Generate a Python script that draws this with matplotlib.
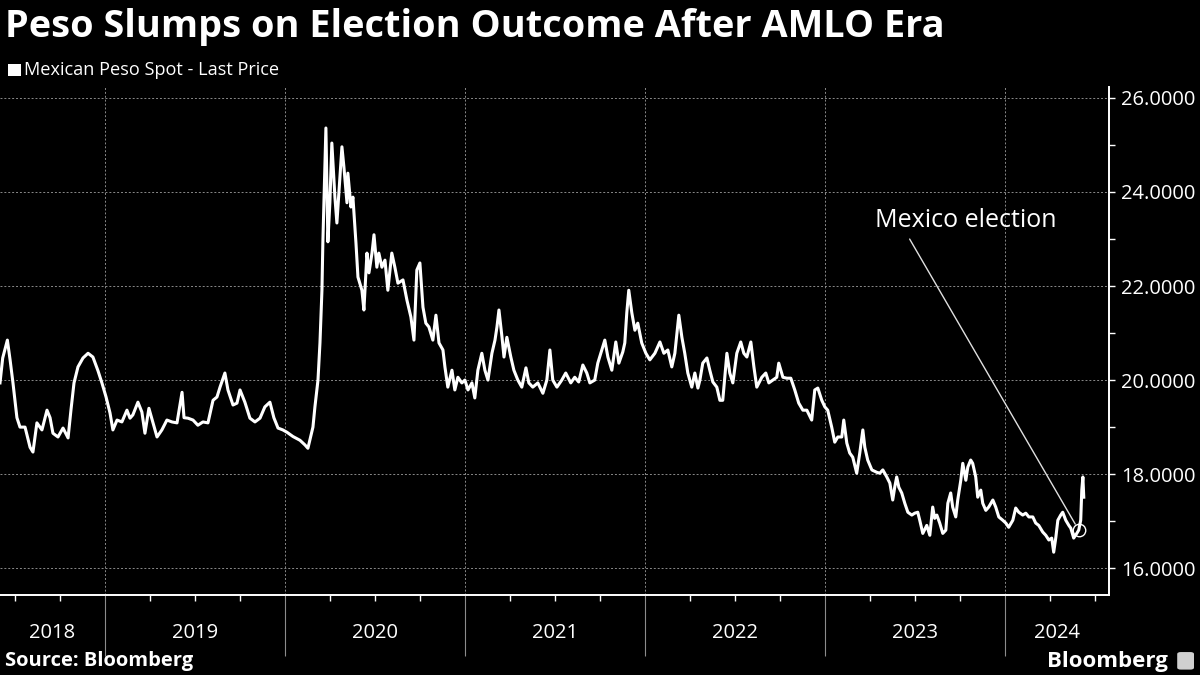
import numpy as np
import matplotlib.pyplot as plt
import matplotlib.transforms as mtransforms
from matplotlib.patches import Rectangle, FancyBboxPatch

plt.rcParams['font.family'] = ['Open Sans', 'DejaVu Sans']

# USD/MXN spot (time as decimal year)
t_2018 = [2018.417, 2018.432, 2018.458, 2018.473, 2018.489, 2018.511, 2018.528, 2018.556,
          2018.584, 2018.600, 2018.622, 2018.650, 2018.678, 2018.695, 2018.711, 2018.739,
          2018.767, 2018.795, 2018.811, 2018.828, 2018.850, 2018.878, 2018.906, 2018.933,
          2018.961, 2018.983]
v_2018 = [19.94, 20.47, 20.85, 20.43, 19.94, 19.20, 19.00, 19.00,
          18.57, 18.47, 19.09, 18.94, 19.36, 19.20, 18.87, 18.79,
          18.98, 18.77, 19.36, 19.94, 20.28, 20.47, 20.57, 20.49,
          20.20, 19.94]

t_2019 = [2019.006, 2019.028, 2019.044, 2019.067, 2019.094, 2019.122, 2019.139, 2019.155,
          2019.183, 2019.205, 2019.222, 2019.244, 2019.267, 2019.289, 2019.316, 2019.344,
          2019.372, 2019.400, 2019.428, 2019.439, 2019.461, 2019.489, 2019.516, 2019.544,
          2019.572, 2019.600, 2019.622, 2019.639, 2019.666, 2019.683, 2019.711, 2019.733,
          2019.750, 2019.777, 2019.805, 2019.833, 2019.861, 2019.888, 2019.916, 2019.938,
          2019.961, 2019.988]
v_2019 = [19.64, 19.30, 18.94, 19.15, 19.11, 19.36, 19.19, 19.26,
          19.53, 19.32, 18.87, 19.40, 19.09, 18.79, 18.94, 19.15,
          19.11, 19.09, 19.74, 19.20, 19.19, 19.15, 19.04, 19.11,
          19.09, 19.57, 19.64, 19.85, 20.15, 19.79, 19.47, 19.51,
          19.79, 19.53, 19.19, 19.11, 19.19, 19.43, 19.53, 19.20,
          18.98, 18.94]

t_2020 = [2020.011, 2020.044, 2020.083, 2020.111, 2020.127, 2020.155, 2020.166, 2020.183,
          2020.194, 2020.205, 2020.210, 2020.227, 2020.238, 2020.249, 2020.260, 2020.277,
          2020.288, 2020.299, 2020.316, 2020.327, 2020.344, 2020.349, 2020.366, 2020.377,
          2020.394, 2020.405, 2020.427, 2020.438, 2020.455, 2020.466, 2020.483, 2020.494,
          2020.510, 2020.521, 2020.538, 2020.555, 2020.571, 2020.593, 2020.610, 2020.627,
          2020.655, 2020.677, 2020.699, 2020.716, 2020.732, 2020.749, 2020.766, 2020.782,
          2020.799, 2020.821, 2020.838, 2020.855, 2020.877, 2020.888, 2020.904, 2020.927,
          2020.943, 2020.960, 2020.982, 2020.999]
v_2020 = [18.89, 18.80, 18.72, 18.62, 18.55, 19.00, 19.43, 20.00,
          20.79, 21.91, 22.91, 25.36, 22.94, 23.77, 25.04, 23.89,
          23.34, 23.98, 24.96, 24.53, 23.77, 24.40, 23.68, 23.89,
          22.91, 22.19, 21.91, 21.49, 22.70, 22.28, 22.70, 23.09,
          22.40, 22.70, 22.40, 22.55, 21.91, 22.70, 22.40, 22.06,
          22.13, 21.70, 21.34, 20.85, 22.34, 22.49, 21.55, 21.21,
          21.13, 20.85, 21.38, 20.79, 20.64, 20.28, 19.85, 20.21,
          19.79, 20.06, 19.94, 20.00]

t_2021 = [2021.016, 2021.038, 2021.054, 2021.071, 2021.093, 2021.110, 2021.127, 2021.149,
          2021.166, 2021.177, 2021.188, 2021.205, 2021.216, 2021.232, 2021.254, 2021.271,
          2021.293, 2021.315, 2021.338, 2021.354, 2021.376, 2021.404, 2021.432, 2021.454,
          2021.471, 2021.487, 2021.510, 2021.537, 2021.559, 2021.587, 2021.609, 2021.631,
          2021.654, 2021.676, 2021.693, 2021.720, 2021.737, 2021.759, 2021.776, 2021.793,
          2021.815, 2021.837, 2021.854, 2021.876, 2021.887, 2021.898, 2021.909, 2021.926,
          2021.943, 2021.959, 2021.981]
v_2021 = [19.79, 19.94, 19.62, 20.21, 20.57, 20.21, 20.00, 20.57,
          20.85, 21.13, 21.49, 20.91, 20.49, 20.91, 20.49, 20.21,
          20.00, 19.85, 20.26, 19.94, 19.85, 19.94, 19.72, 20.00,
          20.64, 20.00, 19.85, 20.00, 20.15, 19.94, 20.06, 19.96,
          20.32, 20.15, 19.94, 20.00, 20.36, 20.64, 20.85, 20.49,
          20.21, 20.81, 20.36, 20.60, 20.79, 21.43, 21.91, 21.43,
          21.06, 21.21, 20.79]

t_2022 = [2022.004, 2022.026, 2022.054, 2022.082, 2022.104, 2022.126, 2022.148, 2022.165,
          2022.187, 2022.204, 2022.220, 2022.237, 2022.259, 2022.276, 2022.293, 2022.304,
          2022.320, 2022.343, 2022.359, 2022.376, 2022.398, 2022.415, 2022.431, 2022.454,
          2022.470, 2022.487, 2022.509, 2022.531, 2022.548, 2022.565, 2022.587, 2022.604,
          2022.620, 2022.648, 2022.670, 2022.687, 2022.709, 2022.731, 2022.742, 2022.765,
          2022.787, 2022.809, 2022.831, 2022.853, 2022.876, 2022.898, 2022.925, 2022.942,
          2022.959, 2022.981, 2022.998]
v_2022 = [20.57, 20.43, 20.57, 20.81, 20.57, 20.64, 20.28, 20.57,
          21.38, 20.91, 20.57, 20.15, 19.85, 20.15, 19.83, 20.00,
          20.36, 20.47, 20.21, 19.96, 19.85, 19.57, 19.57, 20.57,
          20.15, 19.94, 20.57, 20.81, 20.57, 20.49, 20.81, 20.28,
          19.85, 20.06, 20.15, 19.94, 20.00, 20.06, 20.36, 20.06,
          20.04, 20.04, 19.79, 19.51, 19.36, 19.36, 19.15, 19.79,
          19.83, 19.57, 19.43]

t_2023 = [2023.014, 2023.036, 2023.053, 2023.070, 2023.092, 2023.103, 2023.120, 2023.136,
          2023.153, 2023.175, 2023.192, 2023.209, 2023.220, 2023.236, 2023.259, 2023.286,
          2023.303, 2023.320, 2023.342, 2023.359, 2023.375, 2023.386, 2023.397, 2023.409,
          2023.425, 2023.442, 2023.459, 2023.481, 2023.497, 2023.514, 2023.525, 2023.542,
          2023.564, 2023.581, 2023.597, 2023.608, 2023.620, 2023.636, 2023.653, 2023.670,
          2023.681, 2023.697, 2023.708, 2023.725, 2023.736, 2023.753, 2023.764, 2023.781,
          2023.792, 2023.808, 2023.819, 2023.836, 2023.847, 2023.864, 2023.875, 2023.892,
          2023.908, 2023.931, 2023.947, 2023.964, 2023.986]
v_2023 = [19.36, 19.00, 18.68, 18.79, 18.79, 19.15, 18.66, 18.45,
          18.36, 18.02, 18.45, 18.94, 18.57, 18.30, 18.09, 18.04,
          18.02, 18.09, 17.94, 17.81, 17.45, 17.72, 17.94, 17.72,
          17.60, 17.38, 17.19, 17.13, 17.17, 17.19, 17.02, 16.74,
          16.91, 16.70, 17.30, 17.06, 17.13, 16.96, 16.74, 16.81,
          17.38, 17.60, 17.30, 17.09, 17.45, 17.87, 18.23, 17.87,
          18.15, 18.30, 18.23, 17.94, 17.51, 17.66, 17.38, 17.23,
          17.30, 17.45, 17.30, 17.09, 17.02]

t_2024 = [2024.003, 2024.019, 2024.042, 2024.058, 2024.075, 2024.097, 2024.114, 2024.131,
          2024.153, 2024.169, 2024.186, 2024.208, 2024.225, 2024.242, 2024.258, 2024.269,
          2024.281, 2024.292, 2024.308, 2024.319, 2024.336, 2024.353, 2024.364, 2024.380,
          2024.397, 2024.408, 2024.419, 2024.425, 2024.431, 2024.436]
v_2024 = [16.96, 16.87, 17.02, 17.28, 17.19, 17.13, 17.17, 17.09,
          17.09, 16.96, 16.91, 16.77, 16.70, 16.60, 16.64, 16.34,
          16.66, 17.02, 17.13, 17.19, 17.02, 16.91, 16.85, 16.64,
          16.74, 16.81, 17.02, 17.66, 17.94, 17.51]

election_t = 2024.408
election_v = 16.81
label_t, label_v = 2023.781, 23.40

years = [2018, 2019, 2020, 2021, 2022, 2023, 2024]
y_ticks = [16, 18, 20, 22, 24, 26]

t = np.concatenate([t_2018, t_2019, t_2020, t_2021, t_2022, t_2023, t_2024])
v = np.concatenate([v_2018, v_2019, v_2020, v_2021, v_2022, v_2023, v_2024])

x_min, x_max = 2018.417, 2024.575

fig = plt.figure(figsize=(12, 6.75), dpi=100, facecolor='black')
ax = fig.add_axes([0.0, 0.1185, 0.924, 0.7525])
ax.set_facecolor('black')

ax.plot(t, v, color='white', linewidth=2.2, solid_joinstyle='round', zorder=3)
ax.plot([election_t], [election_v], marker='o', markersize=9, markerfacecolor='none',
        markeredgecolor='white', markeredgewidth=1.0, zorder=4)
ax.annotate('Mexico election', xy=(election_t, election_v), xytext=(label_t, label_v),
            color='white', fontsize=18, ha='center', va='center',
            arrowprops=dict(arrowstyle='-', color='#e0e0e0', lw=1.0,
                            relpos=(0.17, 0.0), shrinkA=3, shrinkB=5))

ax.set_xlim(x_min, x_max)
ax.set_ylim(15.43, 26.23)

for s in ['left', 'top']:
    ax.spines[s].set_visible(False)
for s in ['bottom', 'right']:
    ax.spines[s].set_color('white')
    ax.spines[s].set_linewidth(1.4)

# x axis: year separators and quarterly minor ticks
ax.set_xticks(years[1:])
ax.set_xticklabels([])
quarters = [y + q for y in years for q in (0.25, 0.5, 0.75) if x_min < y + q < x_max]
ax.set_xticks(quarters, minor=True)
ax.tick_params(axis='x', which='major', length=44, width=0.8, color='#8c8c8c', direction='out')
ax.tick_params(axis='x', which='minor', length=4, width=1, color='white', direction='out')

trans = mtransforms.blended_transform_factory(ax.transData, ax.transAxes)
for y in years:
    lo, hi = max(y, x_min), min(y + 1, x_max)
    ax.text((lo + hi) / 2, -0.075, str(y), transform=trans, ha='center', va='center',
            color='white', fontsize=14.5)

# y axis on the right
ax.yaxis.tick_right()
ax.set_yticks(y_ticks)
ax.set_yticklabels([f'{y:.4f}' for y in y_ticks])
ax.set_yticks([17, 19, 21, 23, 25], minor=True)
ax.tick_params(axis='y', which='both', colors='white', labelsize=14.5, length=4,
               width=1, direction='out', pad=5)

ax.grid(True, which='major', color='#8a8a8a', linestyle=(0, (2, 2)), linewidth=0.7)
ax.set_axisbelow(True)

fig.text(0.004, 0.96, 'Peso Slumps on Election Outcome After AMLO Era', color='white',
         fontsize=27.3, fontweight='bold', ha='left', va='center')
fig.patches.append(Rectangle((0.007, 0.887), 0.0105, 0.0185, transform=fig.transFigure,
                             facecolor='white', edgecolor='none'))
fig.text(0.02, 0.896, 'Mexican Peso Spot - Last Price', color='white', fontsize=13.1,
         ha='left', va='center')
fig.text(0.004, 0.0207, 'Source: Bloomberg', color='white', fontsize=14.5,
         fontweight='bold', ha='left', va='center')
fig.text(0.973, 0.0207, 'Bloomberg', color='white', fontsize=16,
         fontweight='bold', ha='right', va='center')
fig.patches.append(FancyBboxPatch((0.981, 0.008), 0.014, 0.026, transform=fig.transFigure,
                                  boxstyle='round,pad=0,rounding_size=0.003',
                                  facecolor='#d0d0d0', edgecolor='none'))

fig.savefig('out.png', dpi=100, facecolor='black')
